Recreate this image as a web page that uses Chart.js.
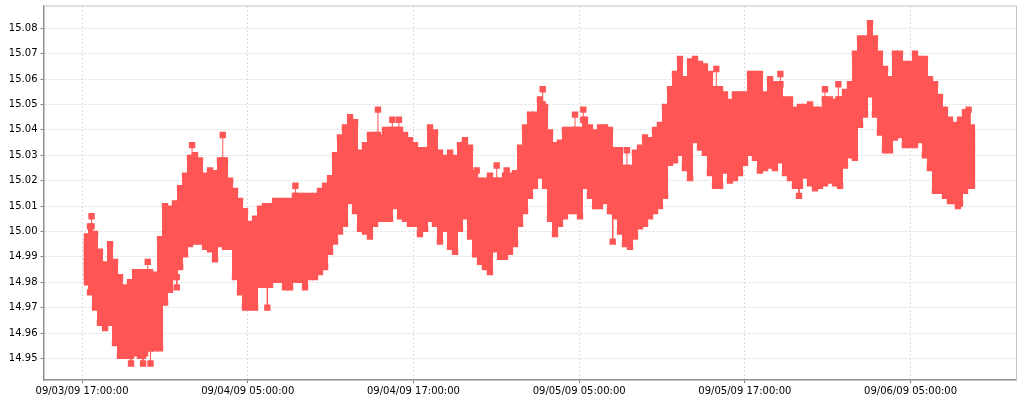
<!doctype html>
<html>
<head>
<meta charset="utf-8">
<title>Value over time</title>
<style>
    html, body { margin: 0; padding: 0; background: #fff; }
    canvas { display: block; }
</style>
<script src="https://cdn.jsdelivr.net/npm/chart.js"></script>
</head>
<body>
<canvas id="chart" width="1024" height="400"></canvas>
<script>
// hours since 09/03/09 17:00:00
const hours = [
    0.36,0.58,0.94,1.30,1.67,2.03,2.39,2.75,3.11,3.48,3.84,4.20,4.56,4.92,5.29,5.65,6.01,6.37,6.73,7.10,7.46,7.82,8.18,8.54,8.91,9.27,9.63,9.99,10.35,10.72,
    11.08,11.44,11.80,12.17,12.53,12.89,13.25,13.61,13.98,14.34,14.70,15.06,15.42,15.79,16.15,16.51,16.87,17.23,17.60,17.96,18.32,18.68,19.04,19.41,19.77,20.13,20.49,20.85,21.22,21.58,
    21.94,22.30,22.66,23.03,23.39,23.75,24.11,24.47,24.84,25.20,25.56,25.92,26.29,26.65,27.01,27.37,27.73,28.10,28.46,28.82,29.18,29.54,29.91,30.27,30.63,30.99,31.35,31.72,32.08,
    32.44,32.80,33.16,33.53,33.89,34.25,34.61,34.97,35.34,35.70,36.06,36.42,36.78,37.15,37.51,37.87,38.23,38.60,38.96,39.32,39.68,40.04,40.41,40.77,41.13,41.49,41.85,42.22,42.58,42.94,
    43.30,43.66,44.03,44.39,44.75,45.11,45.47,45.84,46.20,46.56,46.92,47.28,47.65,48.01,48.37,48.73,49.09,49.46,49.82,50.18,50.54,50.91,51.27,51.63,51.99,52.35,52.72,53.08,53.44,53.80,54.16,
    54.53,54.89,55.25,55.61,55.97,56.34,56.70,57.06,57.42,57.78,58.15,58.51,58.87,59.23,59.59,59.96,60.32,60.68,61.04,61.40,61.77,62.13,62.49,62.85,63.22,63.58,63.94,64.20,64.44
];
const highs = [
    14.998,15.002,14.999,14.992,14.987,14.995,14.988,14.982,14.978,14.980,14.984,14.984,14.984,14.984,14.983,14.997,15.010,15.009,15.011,15.017,15.022,15.029,15.030,15.028,15.022,15.024,15.023,15.028,15.028,15.020,
    15.016,15.012,15.008,15.003,15.005,15.009,15.010,15.010,15.012,15.012,15.012,15.012,15.014,15.014,15.014,15.014,15.014,15.016,15.018,15.021,15.030,15.037,15.041,15.045,15.043,15.031,15.034,15.038,15.038,15.037,
    15.040,15.040,15.040,15.040,15.038,15.036,15.034,15.032,15.032,15.041,15.039,15.031,15.029,15.031,15.029,15.034,15.036,15.033,15.023,15.020,15.020,15.022,15.020,15.020,15.022,15.022,15.023,15.033,15.041,
    15.046,15.046,15.052,15.049,15.039,15.034,15.035,15.040,15.040,15.040,15.040,15.044,15.041,15.039,15.041,15.041,15.040,15.032,15.032,15.025,15.025,15.031,15.033,15.037,15.036,15.040,15.042,15.049,15.056,15.062,
    15.068,15.060,15.067,15.068,15.066,15.065,15.062,15.056,15.056,15.054,15.051,15.054,15.054,15.054,15.062,15.062,15.062,15.054,15.060,15.058,15.058,15.052,15.052,15.048,15.049,15.049,15.050,15.048,15.048,15.052,15.052,
    15.051,15.052,15.055,15.058,15.070,15.076,15.076,15.082,15.076,15.070,15.064,15.060,15.070,15.070,15.066,15.066,15.070,15.068,15.068,15.060,15.058,15.053,15.048,15.044,15.042,15.044,15.047,15.048,15.041
];
const lows = [
    14.980,14.976,14.970,14.964,14.962,14.964,14.956,14.951,14.951,14.952,14.952,14.951,14.952,14.954,14.954,14.954,14.972,14.977,14.982,14.986,14.991,14.995,14.996,14.996,14.994,14.993,14.989,14.995,14.994,14.994,
    14.982,14.976,14.970,14.970,14.970,14.979,14.979,14.979,14.981,14.981,14.978,14.978,14.981,14.981,14.978,14.982,14.982,14.984,14.986,14.992,14.996,15.000,15.003,15.012,15.008,15.001,15.000,14.998,15.003,15.005,
    15.005,15.005,15.010,15.006,15.005,15.003,15.003,14.999,15.001,15.005,15.003,14.996,15.001,14.994,14.992,15.001,15.006,14.998,14.991,14.988,14.986,14.984,14.993,14.990,14.990,14.992,14.995,15.003,15.008,
    15.014,15.018,15.022,15.018,15.005,14.999,15.003,15.006,15.008,15.008,15.006,15.018,15.014,15.010,15.010,15.012,15.008,15.006,15.000,14.995,14.994,14.998,15.002,15.003,15.006,15.008,15.010,15.014,15.027,15.028,
    15.031,15.025,15.021,15.036,15.033,15.031,15.023,15.018,15.018,15.024,15.020,15.021,15.023,15.027,15.031,15.029,15.024,15.025,15.026,15.025,15.028,15.023,15.021,15.018,15.018,15.022,15.019,15.017,15.018,15.019,15.020,
    15.019,15.018,15.026,15.030,15.029,15.042,15.046,15.054,15.046,15.039,15.032,15.032,15.037,15.038,15.034,15.034,15.034,15.036,15.030,15.025,15.016,15.016,15.014,15.012,15.012,15.011,15.016,15.018,15.018
];
// single readings that stick out of the band, plus the readings stacked on its two ends
const spikeHours = [0.69,3.55,4.42,4.96,7.97,10.19,4.76,6.86,13.42,15.45,21.43,22.47,22.95,28.58,30.03,30.75,33.36,35.70,36.30,38.43,39.46,45.93,50.57,51.92,53.80,54.77,63.43,
    0.36,0.36,0.36,0.36,0.36,0.36,0.36,0.36,
    64.44,64.44,64.44,64.44,64.44,64.44,64.44,64.44,64.44,64.44,64.44];
const spikeTips = [15.006,14.948,14.948,14.948,15.034,15.038,14.988,14.978,14.970,15.018,15.048,15.044,15.044,15.024,15.026,15.024,15.056,15.046,15.048,14.996,15.032,15.064,15.062,15.014,15.056,15.058,15.010,
    14.996,14.994,14.992,14.990,14.988,14.986,14.984,14.982,
    15.039,15.037,15.035,15.033,15.031,15.029,15.027,15.025,15.023,15.021,15.019];
const spikeBases = [15.002,14.951,14.951,14.954,15.029,15.028,14.984,14.982,14.979,15.014,15.038,15.040,15.040,15.020,15.020,15.022,15.050,15.040,15.044,15.008,15.025,15.056,15.058,15.018,15.052,15.052,15.012,
    14.996,14.994,14.992,14.990,14.988,14.986,14.984,14.982,
    15.039,15.037,15.035,15.033,15.031,15.029,15.027,15.025,15.023,15.021,15.019];

const xTickHours = [0,12,24,36,48,60];
const xTickLabels = ['09/03/09 17:00:00','09/04/09 05:00:00','09/04/09 17:00:00','09/05/09 05:00:00','09/05/09 17:00:00','09/06/09 05:00:00'];
const yTicks = [14.95,14.96,14.97,14.98,14.99,15.00,15.01,15.02,15.03,15.04,15.05,15.06,15.07,15.08];

const red = '#ff5555';

const spikeData = [];
spikeHours.forEach((h, i) => {
    spikeData.push({ x: h, y: spikeBases[i] });
    spikeData.push({ x: h, y: spikeTips[i] });
    spikeData.push({ x: h, y: null });
});

// top and right edge of the plot frame
const framePlugin = {
    id: 'frame',
    beforeDatasetsDraw(chart) {
        const { ctx, chartArea: a } = chart;
        ctx.save();
        ctx.strokeStyle = '#c0c0c0';
        ctx.lineWidth = 1;
        ctx.beginPath();
        ctx.moveTo(a.left, a.top);
        ctx.lineTo(a.right, a.top);
        ctx.lineTo(a.right, a.bottom);
        ctx.stroke();
        ctx.restore();
    }
};

Chart.defaults.font.family = '"DejaVu Sans"';
Chart.defaults.font.size = 10;
Chart.defaults.color = '#000';

new Chart(document.getElementById('chart'), {
    type: 'line',
    data: {
        datasets: [
            {
                label: 'high',
                data: hours.map((h, i) => ({ x: h, y: highs[i] })),
                borderColor: red,
                borderWidth: 1,
                backgroundColor: red,
                fill: '+1',
                stepped: 'middle',
                pointStyle: 'rect',
                pointRadius: 4.5,
                pointBackgroundColor: red,
                pointBorderWidth: 0
            },
            {
                label: 'low',
                data: hours.map((h, i) => ({ x: h, y: lows[i] })),
                borderColor: red,
                borderWidth: 1,
                fill: false,
                stepped: 'middle',
                pointStyle: 'rect',
                pointRadius: 4.5,
                pointBackgroundColor: red,
                pointBorderWidth: 0
            },
            {
                label: 'spikes',
                data: spikeData,
                borderColor: red,
                borderWidth: 1,
                fill: false,
                spanGaps: false,
                pointStyle: 'rect',
                pointRadius: 4.5,
                pointBackgroundColor: red,
                pointBorderWidth: 0
            }
        ]
    },
    options: {
        responsive: false,
        animation: false,
        layout: { padding: { top: 6, right: 7.5, left: 0, bottom: 0 } },
        plugins: { legend: { display: false }, tooltip: { enabled: false } },
        scales: {
            x: {
                type: 'linear',
                min: -2.79,
                max: 67.67,
                afterBuildTicks: axis => { axis.ticks = xTickHours.map(v => ({ value: v })); },
                afterFit: axis => { axis.height = 20; axis.paddingLeft = 0; axis.paddingRight = 0; },
                ticks: {
                    autoSkip: false,
                    maxRotation: 0,
                    padding: 2,
                    callback: v => xTickLabels[xTickHours.indexOf(v)]
                },
                grid: { color: '#dcdcdc', tickColor: '#808080', tickLength: 3 },
                border: { color: '#909090', width: 1.5, dash: [2, 2] }
            },
            y: {
                min: 14.9415,
                max: 15.0888,
                afterBuildTicks: axis => { axis.ticks = yTicks.map(v => ({ value: v })); },
                afterFit: axis => { axis.width = 43.5; axis.paddingTop = 0; axis.paddingBottom = 0; },
                ticks: {
                    autoSkip: false,
                    padding: 3,
                    callback: v => v.toFixed(2)
                },
                grid: { color: '#dcdcdc', tickColor: '#808080', tickLength: 3 },
                border: { color: '#909090', width: 1.5, dash: [2, 2] }
            }
        }
    },
    plugins: [framePlugin]
});
</script>
</body>
</html>
